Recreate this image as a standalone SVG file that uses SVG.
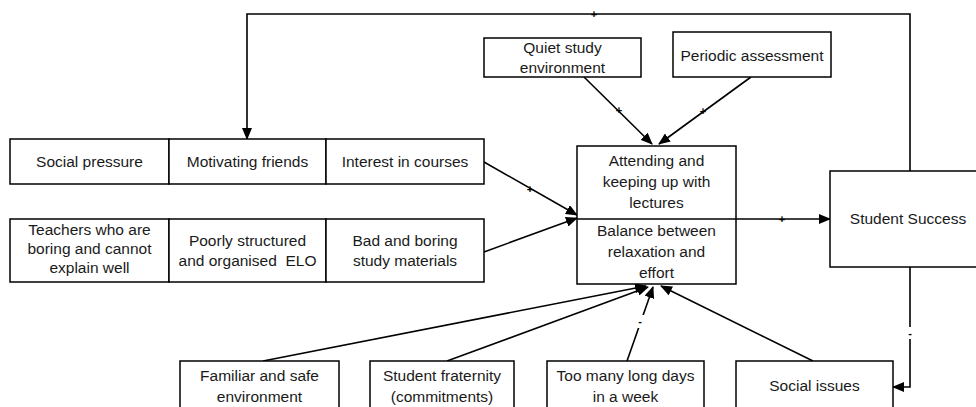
<svg xmlns="http://www.w3.org/2000/svg" width="976" height="407" viewBox="0 0 976 407">
<defs>
<marker id="ah" markerUnits="userSpaceOnUse" markerWidth="12" markerHeight="10" refX="11" refY="5" orient="auto">
<path d="M0,0 L12,5 L0,10 Z" fill="#000"/>
</marker>
<style>
.box{fill:#fff;stroke:#000;stroke-width:1.5}
.t{font-family:"Liberation Sans",Arial,sans-serif;font-size:15.5px;fill:#1a1a1a;text-anchor:middle}
.c{fill:none;stroke:#000;stroke-width:1.6}
.a{marker-end:url(#ah)}
.s{font-family:"Liberation Sans",Arial,sans-serif;font-size:11px;font-weight:bold;fill:#000;text-anchor:middle}
</style>
</defs>
<rect width="976" height="407" fill="#fff"/>

<g id="connectors">
<polyline class="c a" points="910,171 910,14 247,14 247,139"/>
<text class="s" x="594" y="18">+</text>
<polyline class="c a" points="910,267 910,387 893,387"/>
<rect x="905" y="327" width="10" height="12" fill="#fff"/>
<text class="s" x="910" y="337">-</text>
<line class="c a" x1="736" y1="219" x2="830" y2="219"/>
<text class="s" x="782" y="223">+</text>
<line class="c a" x1="484" y1="162" x2="577" y2="215"/>
<text class="s" x="530" y="193">+</text>
<line class="c a" x1="484" y1="252" x2="577" y2="218"/>
<line class="c a" x1="584" y1="77" x2="652" y2="144"/>
<text class="s" x="619" y="114">+</text>
<line class="c a" x1="751" y1="77" x2="659" y2="144"/>
<text class="s" x="703" y="115">+</text>
<line class="c a" x1="263" y1="361" x2="646" y2="286"/>
<line class="c a" x1="447" y1="361" x2="648" y2="287"/>
<line class="c a" x1="627" y1="361" x2="653" y2="287"/>
<rect x="635" y="315" width="10" height="13" fill="#fff"/>
<text class="s" x="640" y="325">-</text>
<line class="c a" x1="813" y1="361" x2="661" y2="286"/>
</g>

<g id="social-pressure"><rect class="box" x="10" y="139" width="159" height="45"/><text class="t" x="89.5" y="167">Social pressure</text></g>
<g id="motivating-friends"><rect class="box" x="169" y="139" width="157" height="45"/><text class="t" x="247.5" y="167">Motivating friends</text></g>
<g id="interest-in-courses"><rect class="box" x="326" y="139" width="158" height="45"/><text class="t" x="405" y="167">Interest in courses</text></g>

<g id="teachers"><rect class="box" x="10" y="219" width="159" height="63"/><text class="t" x="89.5" y="235">Teachers who are</text><text class="t" x="89.5" y="254">boring and cannot</text><text class="t" x="89.5" y="273">explain well</text></g>
<g id="poorly-structured"><rect class="box" x="169" y="219" width="157" height="63"/><text class="t" x="247.5" y="246">Poorly structured</text><text class="t" x="247.5" y="266" xml:space="preserve">and organised  ELO</text></g>
<g id="bad-materials"><rect class="box" x="326" y="219" width="158" height="63"/><text class="t" x="405" y="246">Bad and boring</text><text class="t" x="405" y="266">study materials</text></g>

<g id="quiet-study"><rect class="box" x="484" y="38" width="157" height="39"/><text class="t" x="562.5" y="53">Quiet study</text><text class="t" x="562.5" y="73">environment</text></g>
<g id="periodic-assessment"><rect class="box" x="673" y="32" width="158" height="45"/><text class="t" x="752" y="61">Periodic assessment</text></g>

<g id="attending"><rect class="box" x="577" y="146" width="159" height="138"/><line x1="577" y1="219" x2="736" y2="219" stroke="#000" stroke-width="1.5"/>
<text class="t" x="656.5" y="166">Attending and</text><text class="t" x="656.5" y="187">keeping up with</text><text class="t" x="656.5" y="208">lectures</text>
<text class="t" x="656.5" y="236">Balance between</text><text class="t" x="656.5" y="257">relaxation and</text><text class="t" x="656.5" y="278">effort</text></g>

<g id="student-success"><rect class="box" x="830" y="171" width="150" height="96"/><text class="t" x="908" y="224">Student Success</text></g>

<g id="familiar"><rect class="box" x="180" y="361" width="159" height="50"/><text class="t" x="259.5" y="381">Familiar and safe</text><text class="t" x="259.5" y="402">environment</text></g>
<g id="fraternity"><rect class="box" x="370" y="361" width="144" height="50"/><text class="t" x="442" y="381">Student fraternity</text><text class="t" x="442" y="402">(commitments)</text></g>
<g id="long-days"><rect class="box" x="547" y="361" width="157" height="50"/><text class="t" x="625.5" y="381">Too many long days</text><text class="t" x="625.5" y="402">in a week</text></g>
<g id="social-issues"><rect class="box" x="736" y="361" width="157" height="50"/><text class="t" x="814.5" y="391">Social issues</text></g>
</svg>
